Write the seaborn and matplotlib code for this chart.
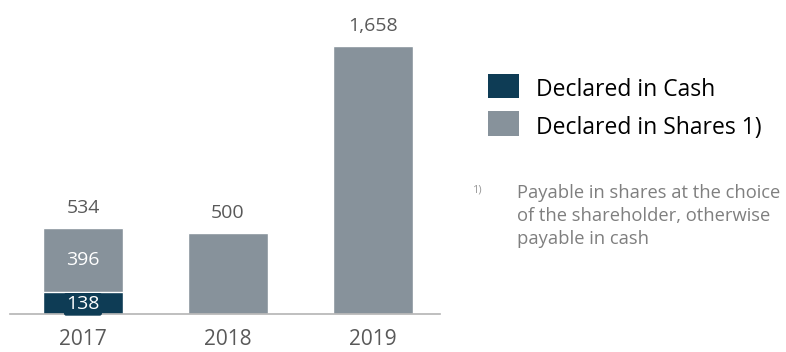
import matplotlib
matplotlib.use("Agg")
import matplotlib.pyplot as plt
from matplotlib.patches import Rectangle
import seaborn as sns
import pandas as pd

years = ["2017", "2018", "2019"]
cash = [138, 0, 0]
shares = [396, 500, 1658]
totals = [c + s for c, s in zip(cash, shares)]
total_labels = ["534", "500", "1,658"]

DARK = "#0e3c55"
GREY = "#87929b"
TXT = "#595959"

sns.set_theme(style="white")
plt.rcParams["font.family"] = ["Open Sans", "DejaVu Sans"]

W, H = 786, 352
BASE = 314
fig = plt.figure(figsize=(W / 100, H / 100), dpi=100)
ax = fig.add_axes([10 / W, (H - BASE) / H, 430 / W, BASE / H])

df = pd.DataFrame({"year": years, "total": totals, "cash": cash, "shares": shares})
bw = 80 / 145
sns.barplot(data=df, x="year", y="total", color=GREY, saturation=1, width=bw, ax=ax)
sns.barplot(data=df, x="year", y="cash", color=DARK, saturation=1, width=bw, ax=ax)

YMAX = 1944
ax.set_xlim(-0.503, 2.462)
ax.set_ylim(0, YMAX)
for s in ["top", "right", "left"]:
    ax.spines[s].set_visible(False)
ax.spines["bottom"].set_color("#b4b4b4")
ax.spines["bottom"].set_linewidth(1.2)
ax.set_yticks([])
ax.set_xlabel("")
ax.set_ylabel("")
ax.tick_params(axis="x", length=0, pad=11, labelsize=15, labelcolor=TXT)

px = YMAX / BASE
for i, (t, lab) in enumerate(zip(totals, total_labels)):
    ax.text(i, t + 20 * px, lab, ha="center", va="center", fontsize=14, color=TXT)

# inner values of the stacked 2017 bar
ax.text(0, cash[0] + shares[0] / 2, str(shares[0]), ha="center", va="center",
        fontsize=14, color="white")
ax.text(0, cash[0] / 2 - 1.5 * px, str(cash[0]), ha="center", va="center",
        fontsize=14, color="white",
        bbox=dict(boxstyle="round,pad=0.12", fc=DARK, ec="none"))

# legend
def fx(x):
    return x / W

def fy(y):
    return 1 - y / H

fig.patches.append(Rectangle((fx(488), fy(98)), 31 / W, 24 / H, transform=fig.transFigure,
                             fc=DARK, ec="none"))
fig.patches.append(Rectangle((fx(488), fy(136)), 31 / W, 25 / H, transform=fig.transFigure,
                             fc=GREY, ec="none"))
fig.text(fx(536), fy(90), "Declared in Cash", fontsize=16.5, color="black", va="center")
fig.text(fx(536), fy(128), "Declared in Shares 1)", fontsize=16.5, color="black", va="center")

fig.text(fx(472), fy(190), "1)", fontsize=8, color="#9a9a9a", va="center")
fig.text(fx(517), fy(216), "Payable in shares at the choice\nof the shareholder, otherwise\npayable in cash",
         fontsize=13.2, color="#7f7f7f", va="center", ha="left", linespacing=1.34)

fig.savefig("out.png", dpi=100)
